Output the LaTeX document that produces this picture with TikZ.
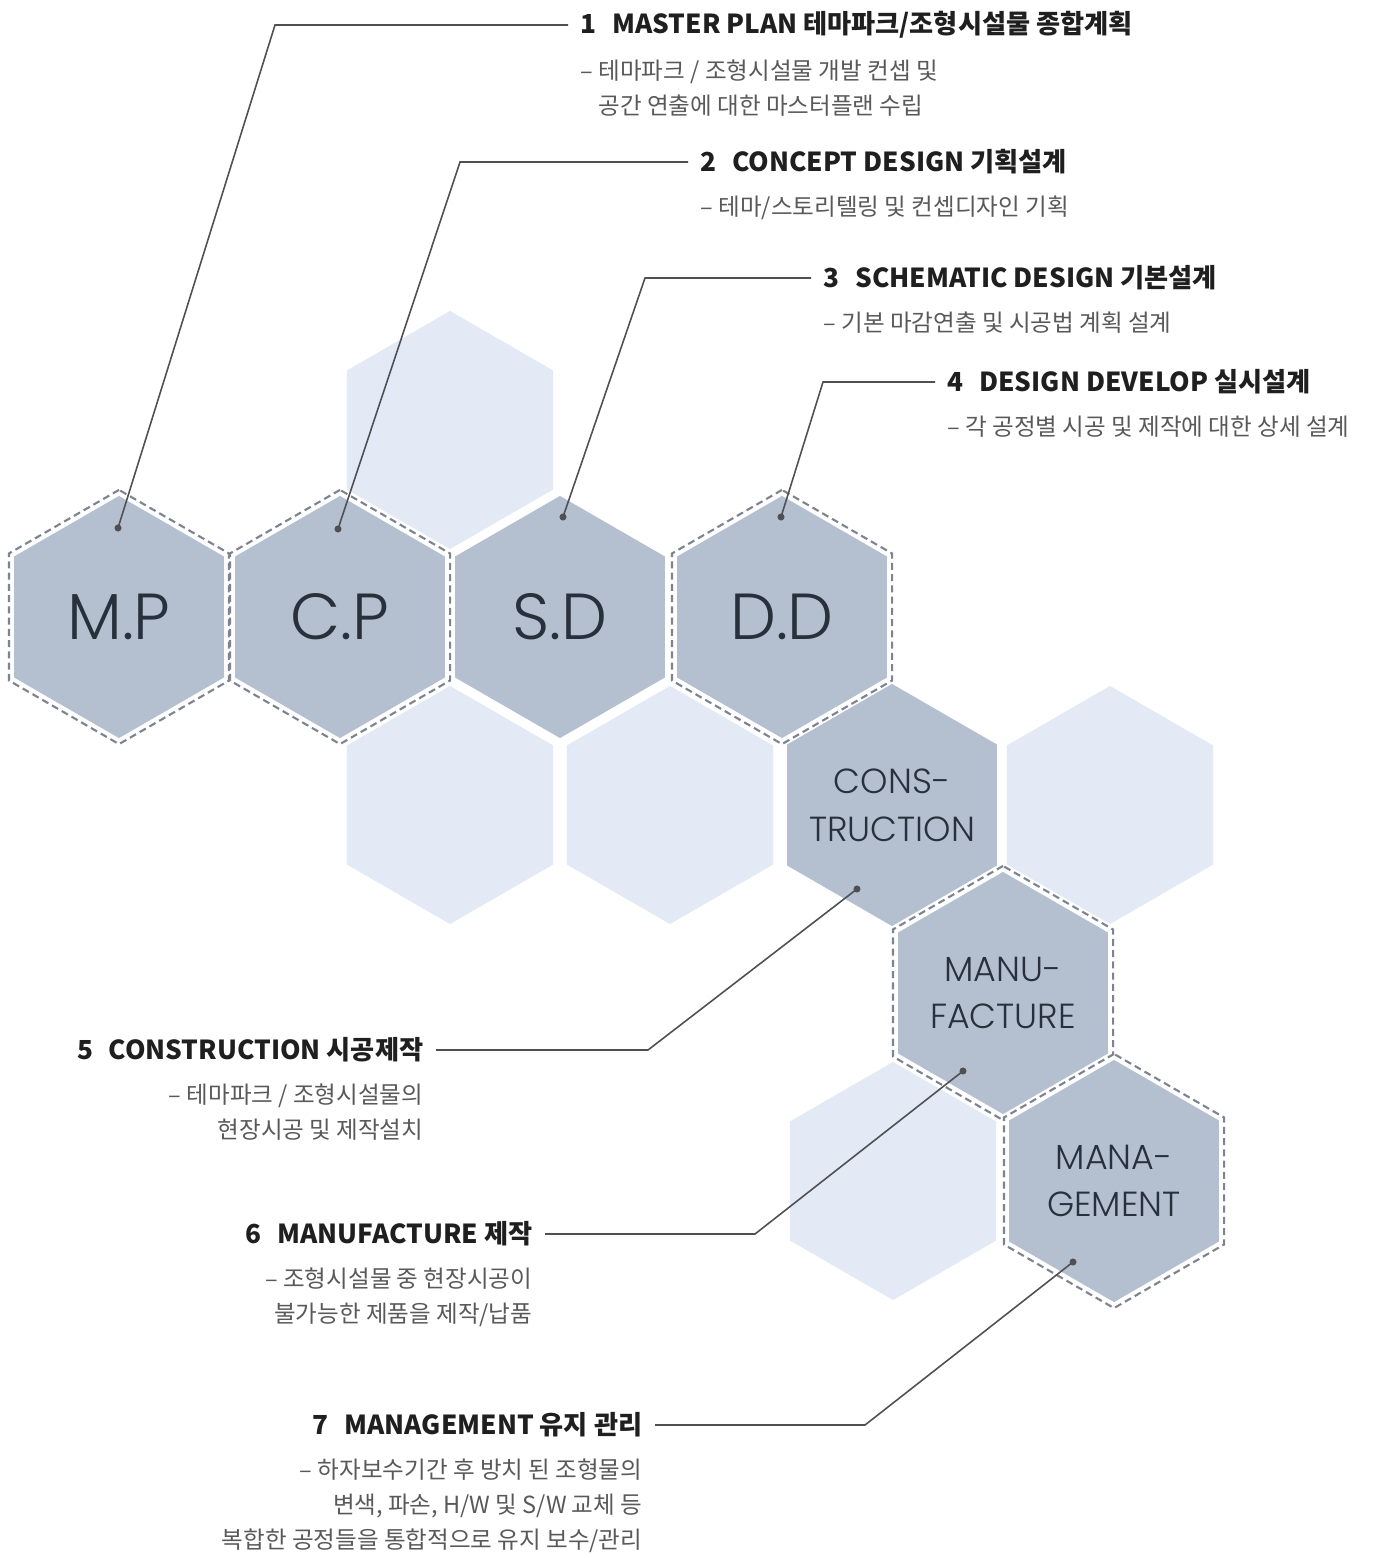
\documentclass[tikz,border=0pt]{standalone}
\usepackage{fontspec}
\setmainfont{Noto Sans CJK KR}
\newfontfamily\hexfont{Poppins}[UprightFont={* Light}]
\usetikzlibrary{shapes.geometric,positioning}

\definecolor{hexdark}{RGB}{180,191,208}
\definecolor{hexlight}{RGB}{227,234,245}
\definecolor{ringgray}{RGB}{125,131,143}
\definecolor{leadgray}{RGB}{80,80,84}
\definecolor{labelink}{RGB}{40,48,60}

\begin{document}
\begin{tikzpicture}[x=0.01cm, y=-0.01cm,
    hexbase/.style = {regular polygon, regular polygon sides=6, shape border rotate=30, inner sep=0pt, outer sep=0pt},
    lighthex/.style = {hexbase, fill=hexlight, minimum size=2.38cm},
    darkhex/.style = {hexbase, fill=hexdark, minimum size=2.42cm},
    ring/.style = {hexbase, fill=white, draw=ringgray, line width=0.6pt, dash pattern=on 2pt off 1.2pt, minimum size=2.54cm},
    biglabel/.style = {font=\hexfont\fontsize{18.5}{22}\selectfont, text=labelink},
    smalllabel/.style = {font=\hexfont\fontsize{9.9}{13.6}\selectfont, text=labelink, align=center},
    title/.style = {inner sep=0pt, font=\fontsize{7.45}{9}\selectfont\bfseries, text=black!88},
    desc/.style = {inner sep=0pt, font=\fontsize{6.7}{10}\selectfont, text=black!65},
    leader/.style = {draw=leadgray, line width=0.45pt, shorten >=0.12cm},
    dot/.style = {fill=leadgray}]
    \useasboundingbox (0,0) rectangle (1373,1558);

    % pale cells behind
    \node[lighthex] (l1) at (450,430) {};
    \node[lighthex] (l2) at (450,805) {};
    \node[lighthex] (l3) at (670,805) {};
    \node[lighthex] (l4) at (1110,805) {};
    \node[lighthex] (l5) at (893,1181) {};

    % the seven steps
    \node[darkhex] (cons) at (892,805) {};
    \node[darkhex] (sd) at (560,617) {};
    \node[ring] (mpring) at (119,617) {};
    \node[darkhex] (mp) at (119,617) {};
    \node[ring] (cpring) at (340,617) {};
    \node[darkhex] (cp) at (340,617) {};
    \node[ring] (ddring) at (782,617) {};
    \node[darkhex] (dd) at (782,617) {};
    \node[ring] (manuring) at (1003,993) {};
    \node[darkhex] (manu) at (1003,993) {};
    \node[ring] (manaring) at (1114,1181) {};
    \node[darkhex] (mana) at (1114,1181) {};

    \node[biglabel] (mptext) at (mp) {M.P};
    \node[biglabel] (cptext) at (cp) {C.P};
    \node[biglabel] (sdtext) at (sd) {S.D};
    \node[biglabel] (ddtext) at (dd) {D.D};
    \node[smalllabel] (constext) at (cons) {CONS-\\TRUCTION};
    \node[smalllabel] (manutext) at (manu) {MANU-\\FACTURE};
    \node[smalllabel] (manatext) at (mana) {MANA-\\GEMENT};

    % texts
    \node[title, anchor=west] (t1) at (580,25) {1\hspace{0.6em}MASTER PLAN 테마파크/조형시설물 종합계획};
    \node[desc, align=left, below right=0.2cm and 0cm of t1.south west] (s1) {– 테마파크 / 조형시설물 개발 컨셉 및\\\phantom{– }공간 연출에 대한 마스터플랜 수립};
    \node[title, anchor=west] (t2) at (700,162) {2\hspace{0.6em}CONCEPT DESIGN 기획설계};
    \node[desc, align=left, below right=0.2cm and 0cm of t2.south west] (s2) {– 테마/스토리텔링 및 컨셉디자인 기획};
    \node[title, anchor=west] (t3) at (823,278) {3\hspace{0.6em}SCHEMATIC DESIGN 기본설계};
    \node[desc, align=left, below right=0.2cm and 0cm of t3.south west] (s3) {– 기본 마감연출 및 시공법 계획 설계};
    \node[title, anchor=west] (t4) at (947,382) {4\hspace{0.6em}DESIGN DEVELOP 실시설계};
    \node[desc, align=left, below right=0.2cm and 0cm of t4.south west] (s4) {– 각 공정별 시공 및 제작에 대한 상세 설계};
    \node[title, anchor=east] (t5) at (424,1050) {5\hspace{0.6em}CONSTRUCTION 시공제작};
    \node[desc, align=right, below left=0.2cm and 0cm of t5.south east] (s5) {– 테마파크 / 조형시설물의\\현장시공 및 제작설치};
    \node[title, anchor=east] (t6) at (533,1234) {6\hspace{0.6em}MANUFACTURE 제작};
    \node[desc, align=right, below left=0.2cm and 0cm of t6.south east] (s6) {– 조형시설물 중 현장시공이\\불가능한 제품을 제작/납품};
    \node[title, anchor=east] (t7) at (643,1425) {7\hspace{0.6em}MANAGEMENT 유지 관리};
    \node[desc, align=right, below left=0.2cm and 0cm of t7.south east] (s7) {– 하자보수기간 후 방치 된 조형물의\\변색, 파손, H/W 및 S/W 교체 등\\복합한 공정들을 통합적으로 유지 보수/관리};

    % leader lines
    \coordinate (d1) at (118,528);
    \coordinate (d2) at (338,529);
    \coordinate (d3) at (563,517);
    \coordinate (d4) at (781,517);
    \coordinate (d5) at (857,889);
    \coordinate (d6) at (963,1071);
    \coordinate (d7) at (1073,1262);
    \coordinate (k1) at (275,0);
    \coordinate (k2) at (460,0);
    \coordinate (k3) at (645,0);
    \coordinate (k4) at (823,0);
    \coordinate (k5) at (648,0);
    \coordinate (k6) at (755,0);
    \coordinate (k7) at (865,0);
    \draw[leader] (d1) -- (k1 |- t1.west) -- (t1.west);
    \draw[leader] (d2) -- (k2 |- t2.west) -- (t2.west);
    \draw[leader] (d3) -- (k3 |- t3.west) -- (t3.west);
    \draw[leader] (d4) -- (k4 |- t4.west) -- (t4.west);
    \draw[leader] (d5) -- (k5 |- t5.east) -- (t5.east);
    \draw[leader] (d6) -- (k6 |- t6.east) -- (t6.east);
    \draw[leader] (d7) -- (k7 |- t7.east) -- (t7.east);
    \fill[dot] (d1) circle (1pt);
    \fill[dot] (d2) circle (1pt);
    \fill[dot] (d3) circle (1pt);
    \fill[dot] (d4) circle (1pt);
    \fill[dot] (d5) circle (1pt);
    \fill[dot] (d6) circle (1pt);
    \fill[dot] (d7) circle (1pt);
\end{tikzpicture}
\end{document}
